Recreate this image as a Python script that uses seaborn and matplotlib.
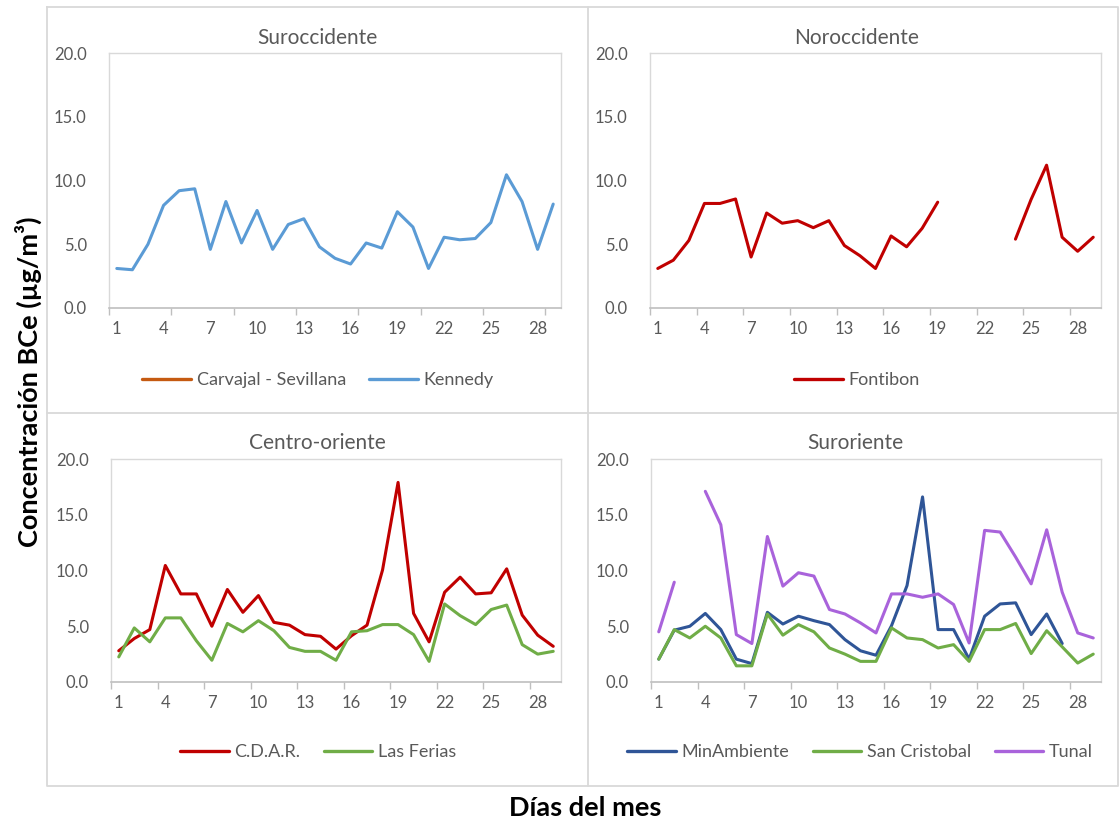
import numpy as np
import pandas as pd
import matplotlib
matplotlib.use("Agg")
import matplotlib.pyplot as plt
from matplotlib.lines import Line2D
import seaborn as sns

sns.set_theme(style="white")
plt.rcParams['font.family'] = ['Lato', 'DejaVu Sans']

nan = np.nan
days = list(range(1, 30))
tick_days = [1, 4, 7, 10, 13, 16, 19, 22, 25, 28]
y_ticks = [0, 5, 10, 15, 20]

carvajal = [nan] * 29
kennedy = [3.1, 3.0, 5.0, 8.05, 9.2, 9.35, 4.6, 8.35, 5.1, 7.65, 4.6, 6.55, 7.0, 4.8,
           3.9, 3.45, 5.1, 4.7, 7.55, 6.35, 3.1, 5.55, 5.35, 5.45, 6.7, 10.45, 8.35, 4.6, 8.15]
fontibon = [3.1, 3.75, 5.3, 8.2, 8.2, 8.55, 4.0, 7.45, 6.65, 6.85, 6.3, 6.85, 4.9, 4.1,
            3.1, 5.65, 4.8, 6.25, 8.3, nan, nan, nan, nan, 5.4, 8.5, 11.2, 5.55, 4.45, 5.55]
cdar = [2.8, 3.9, 4.7, 10.45, 7.9, 7.9, 5.0, 8.3, 6.25, 7.75, 5.35, 5.1, 4.25, 4.1,
        2.95, 4.15, 5.1, 10.05, 17.9, 6.15, 3.6, 8.05, 9.4, 7.9, 8.0, 10.15, 6.0, 4.2, 3.2]
ferias = [2.25, 4.85, 3.6, 5.75, 5.75, 3.7, 1.95, 5.25, 4.5, 5.5, 4.6, 3.1, 2.75, 2.75,
          1.95, 4.5, 4.6, 5.15, 5.15, 4.25, 1.85, 7.0, 5.95, 5.15, 6.5, 6.9, 3.35, 2.5, 2.75]
minambiente = [2.05, 4.65, 5.0, 6.15, 4.7, 2.05, 1.65, 6.25, 5.2, 5.9, 5.5, 5.15, 3.8, 2.8,
               2.4, 5.05, 8.65, 16.6, 4.7, 4.7, 2.05, 5.9, 7.0, 7.1, 4.25, 6.1, 3.45, nan, nan]
sancristobal = [2.05, 4.7, 3.95, 5.0, 3.95, 1.45, 1.45, 6.1, 4.2, 5.15, 4.5, 3.05, 2.5, 1.85,
                1.85, 4.85, 3.95, 3.8, 3.05, 3.35, 1.85, 4.7, 4.7, 5.25, 2.55, 4.6, 3.15, 1.7, 2.5]
tunal = [4.5, 8.95, nan, 17.1, 14.1, 4.25, 3.45, 13.05, 8.6, 9.8, 9.5, 6.5, 6.1, 5.3,
         4.4, 7.9, 7.9, 7.6, 7.9, 6.95, 3.5, 13.6, 13.45, 11.2, 8.8, 13.65, 8.05, 4.4, 3.95]

panels = [
    ("Suroccidente", {"Carvajal - Sevillana": carvajal, "Kennedy": kennedy}),
    ("Noroccidente", {"Fontibon": fontibon}),
    ("Centro-oriente", {"C.D.A.R.": cdar, "Las Ferias": ferias}),
    ("Suroriente", {"MinAmbiente": minambiente, "San Cristobal": sancristobal, "Tunal": tunal}),
]
colors = {
    "Carvajal - Sevillana": "#C55A11",
    "Kennedy": "#5B9BD5",
    "Fontibon": "#C00000",
    "C.D.A.R.": "#C00000",
    "Las Ferias": "#70AD47",
    "MinAmbiente": "#2F5597",
    "San Cristobal": "#70AD47",
    "Tunal": "#A963DB",
}

W, H = 1119, 824
fig = plt.figure(figsize=(W / 100, H / 100), dpi=100)

def fx(px):
    return px / W

def fy(py):
    return 1 - py / H

# axes boxes in pixels: left, top, right, bottom
boxes = [(109, 53, 561, 308), (650, 53, 1101, 308), (111, 459, 561, 682), (651, 459, 1101, 682)]
title_pos = [(317, 38), (857, 38), (317, 443), (855, 443)]
legend_y = [380, 380, 752, 752]
legend_x = [318, 857, 318, 860]
minor_step = [4, 3, 3, 3]

grey = "#595959"
for i, ((title, series), (l, t, r, b)) in enumerate(zip(panels, boxes)):
    ax = fig.add_axes([fx(l), fy(b), fx(r) - fx(l), fy(t) - fy(b)])
    rows = []
    for name, vals in series.items():
        seg = 0
        prev_nan = True
        for d, v in zip(days, vals):
            if np.isnan(v):
                prev_nan = True
                continue
            if prev_nan:
                seg += 1
            prev_nan = False
            rows.append({"day": d, "value": v, "station": name, "seg": f"{name}_{seg}"})
    df = pd.DataFrame(rows)
    order = [n for n in series if n in set(df["station"])]
    sns.lineplot(data=df, x="day", y="value", hue="station", units="seg", estimator=None,
                 hue_order=order, palette={n: colors[n] for n in order},
                 linewidth=2.2, legend=False, ax=ax)
    ax.set_xlim(0.5, 29.5)
    ax.set_ylim(0, 20)
    ax.set_xlabel("")
    ax.set_ylabel("")
    ax.set_yticks(y_ticks)
    ax.set_yticklabels([f"{v:.1f}" for v in y_ticks])
    ax.set_xticks(tick_days)
    ax.set_xticklabels([str(d) for d in tick_days])
    ax.set_xticks(np.arange(0.5, 29.6, minor_step[i]), minor=True)
    ax.tick_params(axis="x", which="major", length=0, pad=9, labelsize=12, labelcolor=grey)
    ax.tick_params(axis="x", which="minor", length=5, width=1, color="#BFBFBF", direction="out", bottom=True)
    ax.tick_params(axis="y", which="both", length=0, pad=16, labelsize=12, labelcolor=grey)
    for s in ["top", "right", "left"]:
        ax.spines[s].set_color("#D9D9D9")
        ax.spines[s].set_linewidth(1.0)
    ax.spines["bottom"].set_color("#BFBFBF")
    ax.spines["bottom"].set_linewidth(1.2)
    ax.grid(False)
    tx, ty = title_pos[i]
    fig.text(fx(tx), fy(ty), title, ha="center", va="center", fontsize=15, color=grey)
    handles = [Line2D([], [], color=colors[n], linewidth=2.4) for n in series]
    fig.legend(handles, list(series.keys()), loc="center", bbox_to_anchor=(fx(legend_x[i]), fy(legend_y[i])),
               ncol=len(series), frameon=False, fontsize=13, labelcolor=grey,
               handlelength=2.7, handletextpad=0.3, columnspacing=1.3)

# panel frame lines
frame = "#D9D9D9"
fig.add_artist(Line2D([fx(47), fx(1118), fx(1118), fx(47), fx(47)],
                      [fy(7), fy(7), fy(786), fy(786), fy(7)], color=frame, linewidth=1.3,
                      transform=fig.transFigure))
fig.add_artist(Line2D([fx(587.5), fx(587.5)], [fy(7), fy(786)], color=frame, linewidth=1.3,
                      transform=fig.transFigure))
fig.add_artist(Line2D([fx(47), fx(1118)], [fy(412.5), fy(412.5)], color=frame, linewidth=1.3,
                      transform=fig.transFigure))

fig.text(fx(28), fy(382), "Concentración BCe (µg/m³)", rotation=90, ha="center", va="center",
         fontsize=19.5, fontweight="bold", color="black")
fig.text(fx(585), fy(808), "Días del mes", ha="center", va="center",
         fontsize=19.5, fontweight="bold", color="black")

fig.savefig("out.png", dpi=100)
